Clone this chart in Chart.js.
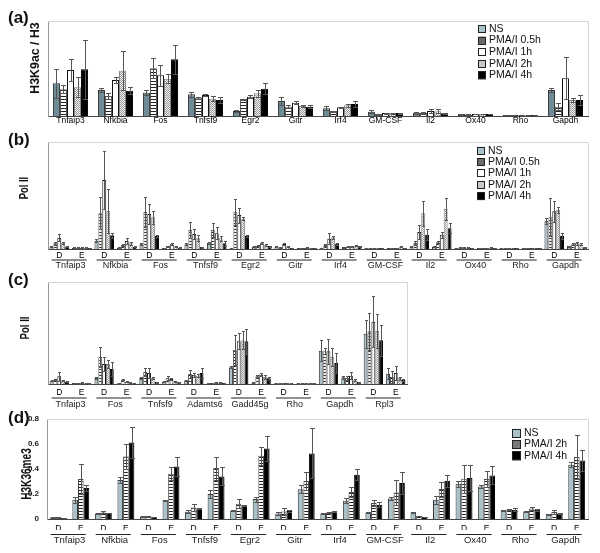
<!DOCTYPE html>
<html>
<head>
<meta charset="utf-8">
<script src="https://cdn.jsdelivr.net/npm/chart.js@4.4.1/dist/chart.umd.min.js"></script>
<style>
  body { margin: 0; background: #fff; }
  #wrap { position: relative; width: 600px; height: 553px; overflow: hidden; font-family: Arial, 'Liberation Sans', sans-serif; color: #111; }
  canvas { position: absolute; left: 0; }
  .tag { position: absolute; font-weight: bold; font-size: 17px; line-height: 17px; }
  .yt { position: absolute; font-weight: bold; white-space: nowrap; line-height: 1; }
</style>
</head>
<body>
<div id="wrap">
  <canvas id="cA" width="600" height="130" style="top:0"></canvas>
  <canvas id="cB" width="600" height="140" style="top:130px"></canvas>
  <canvas id="cC" width="600" height="140" style="top:270px"></canvas>
  <canvas id="cD" width="600" height="153" style="top:400px"></canvas>

  <div class="tag" style="left:8px;top:9px">(a)</div>
  <div class="tag" style="left:8px;top:131px">(b)</div>
  <div class="tag" style="left:8px;top:271px">(c)</div>
  <div class="tag" style="left:8px;top:409px">(d)</div>

  <div class="yt" style="left:34px;top:58px;font-size:13px;transform:translate(-50%,-50%) rotate(-90deg) scale(0.95,1)">H3K9ac / H3</div>
  <div class="yt" style="left:24px;top:188px;font-size:12px;transform:translate(-50%,-50%) rotate(-90deg) scale(0.78,1)">Pol II</div>
  <div class="yt" style="left:25px;top:328px;font-size:12px;transform:translate(-50%,-50%) rotate(-90deg) scale(0.8,1)">Pol II</div>
  <div class="yt" style="left:26px;top:474px;font-size:14px;transform:translate(-50%,-50%) rotate(-90deg) scale(0.72,1)">H3K36me3</div>
</div>
<script>
  const FONT = "Arial, 'Liberation Sans', sans-serif";

  // categories
  const genes  = ['Tnfaip3','Nfkbia','Fos','Tnfsf9','Egr2','Gitr','Irf4','GM-CSF','Il2','Ox40','Rho','Gapdh'];
  const genesC = ['Tnfaip3','Fos','Tnfsf9','Adamts6','Gadd45g','Rho','Gapdh','Rpl3'];
  const sites  = ['D','E'];
  const seriesFive  = ['NS','PMA/I 0.5h','PMA/I 1h','PMA/I 2h','PMA/I 4h'];
  const seriesThree = ['NS','PMA/I 2h','PMA/I 4h'];

  // (a) H3K9ac / H3 (arbitrary units, no scale shown)
  const aNS  = [32.7, 26, 23.3, 21.7, 5, 15, 7.7, 4.3, 3.3, 2, 1, 26];
  const a05  = [26.7, 20, 47.7, 18.3, 17, 9.3, 5, 2, 3, 1.5, 1, 9.3];
  const a1   = [46, 36, 40.7, 21, 19.3, 13.3, 8.7, 3, 5, 2, 1, 37.7];
  const a2   = [28.7, 45.3, 37.3, 17.3, 22.7, 10, 10.7, 3, 4.7, 2, 1, 16];
  const a4   = [46.7, 25.3, 56.7, 16, 27.3, 9.3, 12, 3, 2.7, 2, 1, 16];
  const aNSe = [14.3, 2, 2.7, 2.7, 1, 3.7, 2, 1.5, 1, 0.5, 0.3, 2];
  const a05e = [4, 2.7, 10, 1, 0.5, 1.5, 0.5, 0.5, 0.7, 0.3, 0.3, 3.3];
  const a1e  = [10.7, 2.7, 10.3, 0.7, 1.7, 1.7, 0.5, 0.5, 2, 0.3, 0.3, 21];
  const a2e  = [10, 19.7, 4.7, 2.7, 3.3, 1.3, 1.3, 0.5, 2, 0.3, 0.3, 1.7];
  const a4e  = [29.3, 3.3, 14.3, 3.3, 5.3, 1.3, 3, 0.5, 0.7, 0.3, 0.3, 5];

  // (b) Pol II, D / E per gene
  const bNS  = [2.3,1.3, 8.3,1.3, 4.7,1, 4.7,6.3, 0.7,2.3, 2.3,1, 0.7,2, 1,1, 2.3,2.3, 1,1, 1,1, 28.3,3];
  const b05  = [5.7,1.3, 35.7,4, 37,3, 19,19, 37.3,3.3, 1.7,1, 4,2.3, 1,1, 6,6.7, 1.3,1, 1,1, 31.7,4.7];
  const b1   = [11.3,1.3, 69,8, 35,4.7, 15,15.7, 34,5.7, 5,1.3, 10.3,2.7, 1,1, 17,14.3, 2,1, 1,1, 37.7,5.7];
  const b2   = [6.3,1.3, 38,5.7, 31.7,2.7, 10.7,10.7, 30.3,4.3, 2.3,1, 11.7,3.3, 1,2.3, 35.7,40, 1.3,1.3, 1,1, 39,4.7];
  const b4   = [2.3,1, 13.7,2.3, 13,1.3, 2,5.7, 13,3, 1,1, 5.3,2.7, 1,1, 14.3,20.7, 1,1, 1,1, 13,1.7];
  const bNSe = [0.5,0.3, 1.3,0.3, 1,0.3, 1,1, 0.3,0.5, 0.5,0.3, 0.3,0.5, 0.3,0.3, 0.5,0.5, 0.3,0.3, 0.3,0.3, 3,0.5];
  const b05e = [1.3,0.3, 16,1, 15.3,0.5, 8,6.7, 13,0.5, 0.3,0.3, 1,0.5, 0.3,0.3, 2,1, 0.3,0.3, 0.3,0.3, 19,1];
  const b1e  = [3.4,0.3, 29,2.7, 10,1, 5,6, 7.5,1, 1,0.3, 5.4,0.5, 0.3,0.3, 7,3, 0.5,0.3, 0.3,0.3, 10.3,1.5];
  const b2e  = [1,0.3, 21.7,1.5, 6.3,0.5, 3,2.3, 1.5,1, 0.5,0.3, 1.5,0.5, 0.3,0.5, 12.3,10.7, 0.3,0.3, 0.3,0.3, 3.3,1];
  const b4e  = [0.5,0.3, 2.6,0.5, 1.3,0.3, 0.5,2.6, 1,0.5, 0.3,0.3, 1,0.5, 0.3,0.3, 5.4,5, 0.3,0.3, 0.3,0.3, 2.7,0.5];

  // (c) Pol II, second gene set
  const cNS  = [3.3,1, 6,0.7, 6,2.3, 3.7,1, 16.7,1.7, 0.7,0.7, 33.3,6.7, 50.3,10.3];
  const c05  = [4.3,1, 27,4.3, 12,6, 10,1, 34.3,7.7, 0.7,0.7, 32.7,6, 52.7,7];
  const c1   = [7.7,1.3, 20,2.3, 11,5, 9.3,1.7, 42.7,9.3, 0.7,0.7, 32.7,8.3, 62.3,11];
  const c2   = [3.7,1, 20,1.3, 6,3, 8.3,1.3, 43.7,7, 0.7,0.7, 27,3.7, 53,6];
  const c4   = [2.3,0.7, 15,1, 2,2, 11,1, 42.7,5.7, 0.7,0.7, 21,2, 43.7,4.3];
  const cNSe = [0.7,0.2, 1,0.2, 1,0.5, 0.7,0.2, 1,0.3, 0.2,0.2, 10.4,1.5, 14,5.7];
  const c05e = [0.7,0.2, 10,0.7, 4,1.7, 4.3,0.2, 15,1, 0.2,0.2, 3,1.7, 18.3,5.7];
  const c1e  = [4.3,0.3, 7,0.5, 4.7,0.7, 2,0.3, 8,1.7, 0.2,0.2, 12.3,3.7, 25.4,6.7];
  const c2e  = [0.7,0.2, 4.3,0.3, 1,0.5, 1.5,0.3, 9,2.3, 0.2,0.2, 9,1, 17,1.5];
  const c4e  = [0.5,0.2, 7,0.2, 0.5,0.5, 4.7,0.2, 12.3,1.7, 0.2,0.2, 10,0.5, 15.6,1];

  // (d) H3K36me3
  const dNS  = [0.013,0.155, 0.045,0.312, 0.021,0.147, 0.059,0.2, 0.067,0.16, 0.045,0.238, 0.045,0.147, 0.053,0.165, 0.053,0.155, 0.283,0.261, 0.069,0.061, 0.04,0.435];
  const d2   = [0.011,0.32, 0.053,0.5, 0.021,0.363, 0.093,0.408, 0.123,0.507, 0.061,0.304, 0.053,0.216, 0.128,0.213, 0.024,0.24, 0.323,0.32, 0.075,0.085, 0.056,0.496];
  const d4   = [0.008,0.248, 0.048,0.613, 0.016,0.421, 0.085,0.341, 0.112,0.565, 0.064,0.525, 0.061,0.355, 0.115,0.288, 0.016,0.307, 0.328,0.349, 0.075,0.075, 0.045,0.469];
  const dNSe = [0.003,0.025, 0.005,0.023, 0.002,0.005, 0.01,0.035, 0.004,0.02, 0.01,0.032, 0.003,0.021, 0.004,0.015, 0.004,0.032, 0.024,0.013, 0.004,0.004, 0.004,0.018];
  const d2e  = [0.002,0.12, 0.008,0.1, 0.003,0.05, 0.027,0.092, 0.037,0.071, 0.027,0.075, 0.004,0.04, 0.027,0.102, 0.003,0.06, 0.112,0.061, 0.006,0.01, 0.019,0.179];
  const d4e  = [0.002,0.022, 0.003,0.123, 0.002,0.075, 0.004,0.072, 0.004,0.102, 0.005,0.2, 0.004,0.045, 0.02,0.085, 0.002,0.048, 0.107,0.072, 0.013,0.008, 0.003,0.086];

  // fills
  function makePattern(w, h, draw) {
    const c = document.createElement('canvas');
    c.width = w; c.height = h;
    const g = c.getContext('2d');
    draw(g);
    return g.createPattern(c, 'repeat');
  }
  const stripes = makePattern(1, 3, g => {
    g.fillStyle = '#fff'; g.fillRect(0, 0, 1, 3);
    g.fillStyle = '#222'; g.fillRect(0, 0, 1, 1);
  });
  const dots = makePattern(2, 2, g => {
    g.fillStyle = '#f4f4f4'; g.fillRect(0, 0, 2, 2);
    g.fillStyle = '#999'; g.fillRect(0, 0, 1, 1); g.fillRect(1, 1, 1, 1);
  });
  const nsDark = '#6f8c96';
  const nsLight = '#a9c2ca';

  // plugins
  const errorBars = {
    id: 'errorBars',
    afterDatasetsDraw(chart, args, o) {
      const ctx = chart.ctx, y = chart.scales.y;
      ctx.save();
      ctx.strokeStyle = o.color || '#555';
      ctx.lineWidth = 1;
      chart.data.datasets.forEach((ds, di) => {
        chart.getDatasetMeta(di).data.forEach((bar, i) => {
          const e = ds.errors[i];
          if (!e) return;
          const v = ds.data[i];
          const top = Math.round(y.getPixelForValue(v + e)) + 0.5;
          const bot = Math.round(y.getPixelForValue(Math.max(0, v - e))) + 0.5;
          const x = Math.round(bar.x) + 0.5;
          const cw = o.cap || 2;
          ctx.beginPath();
          ctx.moveTo(x, top); ctx.lineTo(x, bot);
          ctx.moveTo(x - cw, top); ctx.lineTo(x + cw, top);
          ctx.moveTo(x - cw, bot); ctx.lineTo(x + cw, bot);
          ctx.stroke();
        });
      });
      ctx.restore();
    }
  };

  // light frame on top and right side of the plot area
  const frame = {
    id: 'frame',
    beforeDatasetsDraw(chart) {
      const { ctx, chartArea: a } = chart;
      ctx.save();
      ctx.strokeStyle = '#cdd7d7';
      ctx.lineWidth = 1;
      ctx.beginPath();
      ctx.moveTo(a.left, Math.round(a.top) + 0.5);
      ctx.lineTo(Math.round(a.right) + 0.5, Math.round(a.top) + 0.5);
      ctx.lineTo(Math.round(a.right) + 0.5, a.bottom);
      ctx.stroke();
      ctx.restore();
    }
  };

  // bar under each D/E pair
  const pairLines = {
    id: 'pairLines',
    afterDraw(chart, args, o) {
      const s = chart.scales.x2;
      if (!s) return;
      const ctx = chart.ctx;
      const n = s.getLabels().length;
      const w = (s.right - s.left) / n;
      ctx.save();
      ctx.strokeStyle = '#222';
      ctx.lineWidth = 1.2;
      for (let i = 0; i < n; i++) {
        const cx = s.getPixelForValue(i);
        ctx.beginPath();
        ctx.moveTo(cx - w * 0.42, o.y);
        ctx.lineTo(cx + w * 0.36, o.y);
        ctx.stroke();
      }
      ctx.restore();
    }
  };

  const boxLegend = {
    id: 'boxLegend',
    afterDraw(chart, args, o) {
      if (!o.show) return;
      const ctx = chart.ctx;
      ctx.save();
      ctx.font = o.size + 'px ' + FONT;
      ctx.textBaseline = 'middle';
      chart.data.datasets.forEach((ds, i) => {
        const cy = o.y + i * o.dy;
        ctx.fillStyle = ds.legendFill || ds.backgroundColor;
        ctx.fillRect(o.x, cy - o.box / 2, o.box, o.box);
        ctx.strokeStyle = '#222';
        ctx.lineWidth = 1;
        ctx.strokeRect(o.x + 0.5, Math.round(cy - o.box / 2) + 0.5, o.box - 1, o.box - 1);
        ctx.fillStyle = '#111';
        ctx.fillText(ds.label, o.x + o.box + 3, cy);
      });
      ctx.restore();
    }
  };

  function fiveSets(ns, nsFill, vals, errs) {
    const fills   = [nsFill, stripes, '#ffffff', dots, '#000000'];
    const borders = ['#333', '#555', '#111', '#888', '#000'];
    const legend  = [nsLight, '#6a6a6a', '#ffffff', '#c8c8c8', '#000000'];
    return seriesFive.map((name, i) => ({
      label: name,
      data: vals[i],
      errors: errs[i],
      backgroundColor: fills[i],
      borderColor: borders[i],
      borderWidth: 1,
      legendFill: legend[i]
    }));
  }

  function build(id, p) {
    const scales = {
      x: {
        type: 'category',
        labels: p.labels,
        offset: true,
        grid: { display: false, drawTicks: false },
        border: { display: true, color: '#444', width: 1 },
        ticks: { font: { family: FONT, size: p.tickSize }, color: '#000', padding: p.tickPad, maxRotation: 0, autoSkip: false },
        afterFit: s => { s.height = p.xH; }
      },
      y: {
        min: 0,
        max: p.yMax,
        grid: { display: false, drawTicks: false },
        border: { display: true, color: '#999', width: 1 },
        ticks: p.yTicks
          ? { display: true, stepSize: 0.2, padding: 8, color: '#222', font: { family: FONT, size: 8, weight: 'bold' } }
          : { display: false },
        afterFit: s => { s.width = p.yW; }
      }
    };
    if (p.groups) {
      scales.x2 = {
        type: 'category',
        labels: p.groups,
        offset: true,
        weight: 1,
        grid: { display: false, drawTicks: false },
        border: { display: false },
        ticks: { font: { family: FONT, size: p.groupSize }, color: '#222', padding: p.groupPad, maxRotation: 0, autoSkip: false },
        afterFit: s => { s.height = p.x2H; }
      };
    }
    return new Chart(document.getElementById(id), {
      type: 'bar',
      data: { labels: p.labels, datasets: p.datasets },
      options: {
        responsive: false,
        animation: false,
        layout: { padding: p.pad },
        datasets: { bar: { categoryPercentage: p.catPct, barPercentage: 1 } },
        scales,
        plugins: {
          legend: { display: false },
          tooltip: { enabled: false },
          errorBars: { cap: p.cap, color: '#555' },
          pairLines: { y: p.lineY },
          boxLegend: p.legend || { show: false }
        }
      },
      plugins: [frame, errorBars, pairLines, boxLegend]
    });
  }

  const pairs = g => g.flatMap(() => sites);

  // (a)
  build('cA', {
    labels: genes, tickSize: 8.5, tickPad: 0, xH: 14,
    yMax: 95, yW: 48, catPct: 0.78, cap: 2.5,
    pad: { left: 0, top: 21, right: 12, bottom: 0 },
    datasets: fiveSets(aNS, nsDark, [aNS, a05, a1, a2, a4], [aNSe, a05e, a1e, a2e, a4e]),
    legend: { show: true, x: 478, y: 29, dy: 11.6, box: 8, size: 10.5 }
  });

  // (b)
  build('cB', {
    labels: pairs(genes), tickSize: 8.5, tickPad: 2, xH: 9,
    groups: genes, groupSize: 9, groupPad: 1.8, x2H: 12,
    yMax: 107, yW: 48, catPct: 0.87, cap: 1.5, lineY: 130,
    pad: { left: 0, top: 12, right: 12, bottom: 0 },
    datasets: fiveSets(bNS, nsLight, [bNS, b05, b1, b2, b4], [bNSe, b05e, b1e, b2e, b4e]),
    legend: { show: true, x: 477, y: 20.7, dy: 11.35, box: 8, size: 10.5 }
  });

  // (c)
  build('cC', {
    labels: pairs(genesC), tickSize: 8.5, tickPad: 4, xH: 13,
    groups: genesC, groupSize: 9, groupPad: 2.6, x2H: 12,
    yMax: 102, yW: 48, catPct: 0.86, cap: 1.5, lineY: 128,
    pad: { left: 0, top: 12, right: 193, bottom: 1 },
    datasets: fiveSets(cNS, nsLight, [cNS, c05, c1, c2, c4], [cNSe, c05e, c1e, c2e, c4e])
  });

  // (d)
  build('cD', {
    labels: pairs(genes), tickSize: 8.5, tickPad: 4.6, xH: 11,
    groups: genes, groupSize: 9.5, groupPad: 4.3, x2H: 15,
    yMax: 0.8, yTicks: true, yW: 47, catPct: 0.75, cap: 2.5, lineY: 134.5,
    pad: { left: 0, top: 19, right: 12, bottom: 8 },
    datasets: [
      { label: seriesThree[0], data: dNS, errors: dNSe, backgroundColor: nsLight, borderColor: '#333', borderWidth: 1 },
      { label: seriesThree[1], data: d2, errors: d2e, backgroundColor: stripes, borderColor: '#444', borderWidth: 1, legendFill: '#777' },
      { label: seriesThree[2], data: d4, errors: d4e, backgroundColor: '#000', borderColor: '#000', borderWidth: 1 }
    ],
    legend: { show: true, x: 512, y: 33.3, dy: 11.3, box: 9, size: 10.5 }
  });
</script>
</body>
</html>
